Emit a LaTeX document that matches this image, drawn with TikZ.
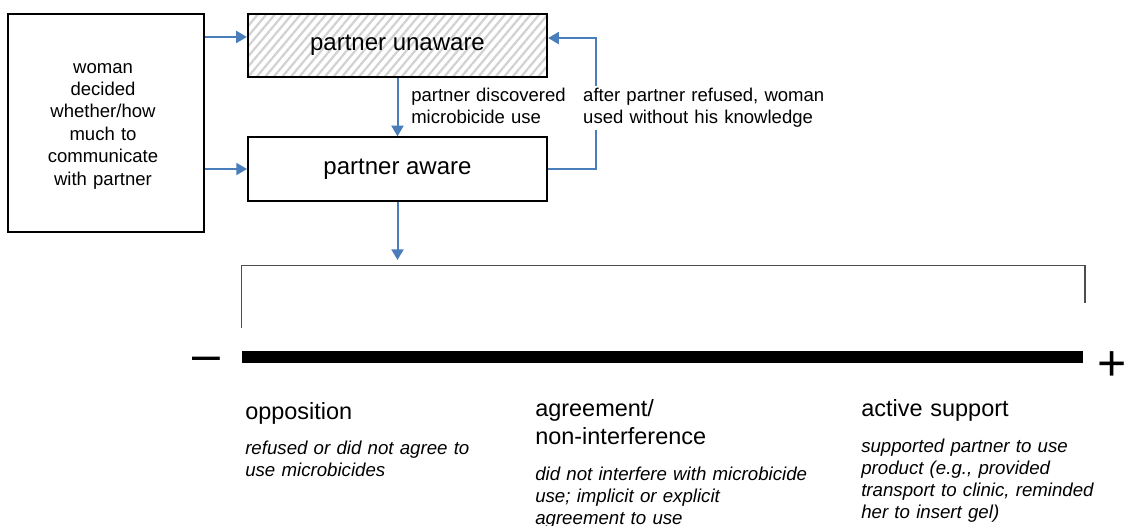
\documentclass[tikz,border=0pt]{standalone}
\usepackage{fontspec}
\setmainfont{Liberation Sans}
\usetikzlibrary{arrows.meta,patterns.meta}
\definecolor{arrowblue}{HTML}{4A7EBB}
\definecolor{hatchgray}{HTML}{D2D2D2}
\definecolor{bracketgray}{HTML}{4D4D4D}
\hyphenpenalty=10000
\exhyphenpenalty=10000
\begin{document}
\begin{tikzpicture}[x=0.75pt,y=-0.75pt,
  statebox/.style={draw=black,line width=1.5pt,minimum width=224.25pt,minimum height=47.5pt,inner sep=0pt,font=\fontsize{18}{21.6}\selectfont},
  arr/.style={draw=arrowblue,line width=1.5pt,-{Triangle[length=8pt,width=9pt]}},
  smalltext/.style={inner sep=0pt,anchor=base west,text width=200pt,align=left,font=\fontsize{13.9}{16.5}\selectfont},
  headtext/.style={inner sep=0pt,anchor=base west,text width=200pt,align=left,font=\fontsize{17.6}{21}\selectfont},
  desctext/.style={inner sep=0pt,anchor=base west,text width=215pt,align=left,font=\fontsize{14}{16.6}\selectfont\itshape},
  pmsign/.style={inner sep=0pt,font=\fontsize{37.5}{40}\selectfont},
]
\useasboundingbox (0,0) rectangle (1124,525);

% left box
\node[draw=black,line width=1.5pt,minimum width=147pt,minimum height=163.5pt,inner sep=0pt] (lbox) at (106,123) {};
\node[inner sep=0pt,text width=120pt,align=center,font=\fontsize{13.9}{16.8}\selectfont] (lboxtext) at (103,126)
  {woman\\decided\\whether/how\\much to\\communicate\\with partner};

% state boxes
\node[statebox,pattern={Lines[angle=50,distance=4.9pt,line width=1.7pt]},pattern color=hatchgray] (unaware) at (397.5,45.5) {};
\node[inner sep=0pt,font=\fontsize{18}{21.6}\selectfont] (unawaretext) at (unaware.center) {partner unaware};
\node[statebox] (aware) at (397.5,169) {partner aware};

% connectors
\coordinate (ua) at ([yshift=6.4pt]unaware.west);
\draw[arr] (lbox.east |- ua) -- (ua);
\draw[arr] (lbox.east |- aware.west) -- (aware.west);
\draw[arr] (unaware.south) -- (aware.north);
\coordinate (ub) at ([yshift=5.6pt]unaware.east);
\draw[arr] (aware.east) -- ++(48,0) |- (ub);
\coordinate (bt) at (397.5,260);
\draw[arr] (aware.south) -- (bt);

% labels
\node[smalltext] (disc) at (411,101.7) {partner discovered\\microbicide use};
\node[smalltext,fill=white,inner xsep=2pt,inner ysep=1.5pt,text width=185pt] (fb) at (580.3,101.7)
  {after partner refused, woman\\used without his knowledge};

% bracket and scale bar
\draw[bracketgray,line width=1.1pt] (241.7,328) -- (241.7,265.7) -- (1085,265.7) -- (1085,303);
\fill[black] (241.7,351) rectangle (1083,363);
\node[pmsign] (minus) at (206,364) {–};
\node[pmsign] (plus) at (1112,366) {+};

% categories
\node[headtext] (opp) at (245,419) {opposition};
\node[desctext] (oppd) at (245,454) {refused or did not agree to\\use microbicides};
\node[headtext] (agr) at (535,416) {agreement/\\non-interference};
\node[desctext] (agrd) at (535,480.5) {did not interfere with microbicide\\use; implicit or explicit\\agreement to use};
\node[headtext] (act) at (861,416) {active support};
\node[desctext,text width=190pt] (actd) at (861,452) {supported partner to use\\product (e.g., provided\\transport to clinic, reminded\\her to insert gel)};
\end{tikzpicture}
\end{document}
